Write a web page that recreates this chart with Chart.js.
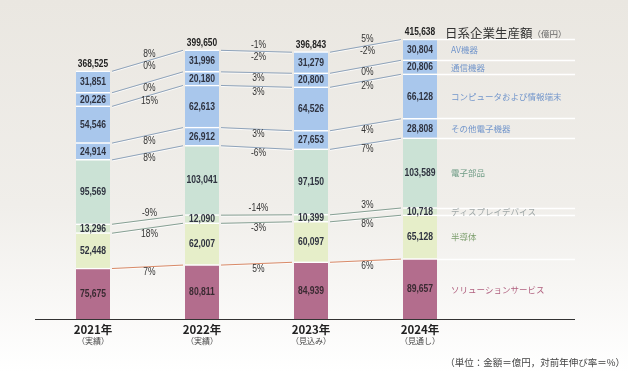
<!DOCTYPE html>
<html><head><meta charset="utf-8">
<script src="https://cdn.jsdelivr.net/npm/chart.js@4/dist/chart.umd.min.js"></script>
<style>html,body{margin:0;padding:0;background:#fff;}canvas{display:block;}</style>
</head><body>
<canvas id="c" width="628" height="372"></canvas>
<script>
const categories = ['2021年','2022年','2023年','2024年'];
const subLabels = ['（実績）','（実績）','（見込み）','（見通し）'];
const seriesNames = ['ソリューションサービス','半導体','ディスプレイデバイス','電子部品','その他電子機器','コンピュータおよび情報端末','通信機器','AV機器'];
const solution = [75675, 80811, 84939, 89657];
const semiconductor = [52448, 62007, 60097, 65128];
const display = [13296, 12090, 10399, 10718];
const components = [95569, 103041, 97150, 103589];
const otherEquip = [24914, 26912, 27653, 28808];
const computer = [54546, 62613, 64526, 66128];
const comm = [20226, 20180, 20800, 20806];
const av = [31851, 31996, 31279, 30804];
const totals = [368525, 399650, 396843, 415638];
const growthTotal = ['8%','-1%','5%'];
const growthSolution = ['7%','5%','6%'];
const growthSemi = ['18%','-3%','8%'];
const growthDisplay = ['-9%','-14%','3%'];
const growthParts = ['8%','-6%','7%'];
const growthOther = ['8%','3%','4%'];
const growthComputer = ['15%','3%','2%'];
const growthComm = ['0%','3%','0%'];
const growthAV = ['0%','-2%','-2%'];

const seriesValues = [solution, semiconductor, display, components, otherEquip, computer, comm, av];
const seriesGrowth = [growthSolution, growthSemi, growthDisplay, growthParts, growthOther, growthComputer, growthComm, growthAV];
const fills = ['#b36d8d','#e6eec9','#d9e9d1','#cbe2d5','#a9c7ec','#a9c7ec','#a9c7ec','#a9c7ec'];
const textColors = ['#b0607f','#7fa070','#a0a8a8','#6f9c86','#7396cb','#7396cb','#7396cb','#7396cb'];
const lineColors = ['#d98a68','#86a094','#86a094','#8ea3bb','#8ea3bb','#8ea3bb','#8ea3bb','#8ea3bb'];
const NUM = "'Liberation Sans',Arial,sans-serif";
const JP = "'Noto Sans CJK JP',sans-serif";

const fmt = v => v.toLocaleString('en-US');

function narrowText(c, txt, x, y, font, color, sx){
  c.save();
  c.font = font; c.fillStyle = color; c.textAlign = 'center'; c.textBaseline = 'middle';
  c.translate(x, y); c.scale(sx, 1);
  c.fillText(txt, 0, 0);
  c.restore();
}

const bgPlugin = {
  id:'bg',
  beforeDraw(chart){
    const c = chart.ctx;
    const g = c.createLinearGradient(0,0,0,372);
    g.addColorStop(0,'#eae7e1');
    g.addColorStop(0.55,'#f0eeea');
    g.addColorStop(1,'#ffffff');
    c.save(); c.fillStyle = g; c.fillRect(0,0,chart.width,chart.height); c.restore();
  }
};

const overlay = {
  id:'overlay',
  afterDatasetsDraw(chart){
    const c = chart.ctx, ys = chart.scales.y;
    const meta0 = chart.getDatasetMeta(0);
    const bars = meta0.data.map(el => ({x: el.x, w: el.width}));
    const cum = categories.map((_, i) => {
      const arr = [0]; let s = 0;
      seriesValues.forEach(v => { s += v[i]; arr.push(s); });
      return arr;
    });
    const base = ys.getPixelForValue(0);
    c.save();
    // axis line
    c.strokeStyle = '#333'; c.lineWidth = 1.2;
    c.beginPath(); c.moveTo(35, base + 0.5); c.lineTo(575, base + 0.5); c.stroke();
    // connectors
    for (let i = 0; i < bars.length - 1; i++) {
      const x1 = bars[i].x + bars[i].w/2 + 2, x2 = bars[i+1].x - bars[i+1].w/2 - 2;
      for (let b = 1; b <= seriesValues.length; b++) {
        const y1 = ys.getPixelForValue(cum[i][b]), y2 = ys.getPixelForValue(cum[i+1][b]);
        c.strokeStyle = 'rgba(255,255,255,0.8)'; c.lineWidth = 1;
        c.beginPath(); c.moveTo(x1, y1+1.5); c.lineTo(x2, y2+1.5); c.stroke();
        c.strokeStyle = lineColors[b-1]; c.lineWidth = 1;
        c.beginPath(); c.moveTo(x1, y1+0.5); c.lineTo(x2, y2+0.5); c.stroke();
      }
      // growth labels
      const mx = (x1 + x2)/2 + 2;
      const pf = '10px ' + NUM;
      seriesGrowth.forEach((g, s) => {
        const b = s + 1;
        const my = (ys.getPixelForValue(cum[i][b]) + ys.getPixelForValue(cum[i+1][b]))/2;
        const off = (s === 2) ? -6 : 6;
        narrowText(c, g[i], mx, my + off, pf, '#333', 0.85);
      });
      const ty = (ys.getPixelForValue(cum[i][8]) + ys.getPixelForValue(cum[i+1][8]))/2;
      narrowText(c, growthTotal[i], mx, ty - 6, pf, '#333', 0.85);
    }
    // right guide lines and labels
    const last = bars.length - 1;
    const rx = bars[last].x + bars[last].w/2;
    for (let b = 1; b <= seriesValues.length; b++) {
      const y = Math.round(ys.getPixelForValue(cum[last][b])) + 0.5;
      c.strokeStyle = '#ffffff'; c.lineWidth = 1.3;
      c.beginPath(); c.moveTo(rx, y); c.lineTo(575, y); c.stroke();
    }
    c.textAlign = 'left'; c.textBaseline = 'middle';
    seriesNames.forEach((n, s) => {
      const y = (ys.getPixelForValue(cum[last][s]) + ys.getPixelForValue(cum[last][s+1]))/2;
      c.font = '8.5px ' + JP; c.fillStyle = textColors[s];
      c.fillText(n, 451, y + 0.5);
    });
    // title
    c.fillStyle = '#333'; c.font = '12.5px ' + JP; c.textBaseline = 'middle';
    c.fillText('日系企業生産額', 445, 33);
    const tw = c.measureText('日系企業生産額').width;
    c.font = '8.5px ' + JP; c.fillStyle = '#666';
    c.fillText('（億円）', 445 + tw, 33.5);
    // value labels
    c.textAlign = 'center';
    bars.forEach((bar, i) => {
      seriesValues.forEach((v, s) => {
        const y = (ys.getPixelForValue(cum[i][s]) + ys.getPixelForValue(cum[i][s+1]))/2;
        narrowText(c, fmt(v[i]), bar.x, y + 0.5, 'bold 11px ' + NUM, s === 0 ? '#3a2a32' : '#2f3340', 0.78);
      });
      narrowText(c, fmt(totals[i]), bar.x, ys.getPixelForValue(totals[i]) - 7, 'bold 10.5px ' + NUM, '#222', 0.8);
      // x labels
      c.textAlign = 'center'; c.textBaseline = 'middle';
      c.font = 'bold 11.5px ' + JP; c.fillStyle = '#222';
      c.fillText(categories[i], bar.x, 330);
      c.font = '8px ' + JP; c.fillStyle = '#444';
      c.fillText(subLabels[i], bar.x, 341);
    });
    // note
    c.textAlign = 'right'; c.textBaseline = 'middle'; c.font = '9.5px ' + JP; c.fillStyle = '#444';
    c.fillText('（単位：金額＝億円，対前年伸び率＝%）', 625, 362);
    c.restore();
  }
};

new Chart(document.getElementById('c'), {
  type:'bar',
  data:{
    labels: categories,
    datasets: seriesNames.map((n, s) => ({
      label: n,
      data: seriesValues[s],
      backgroundColor: fills[s],
      borderColor: '#ffffff',
      borderWidth: {top: 1.5, bottom: 0, left: 0, right: 0},
      borderSkipped: 'start',
      barThickness: 34
    }))
  },
  options:{
    responsive:false, animation:false, devicePixelRatio:1,
    layout:{padding:{left:38.5, right:153.5, top:15.9, bottom:53}},
    plugins:{legend:{display:false}, tooltip:{enabled:false}},
    scales:{
      x:{stacked:true, display:false},
      y:{stacked:true, display:false, min:0, max:450000}
    }
  },
  plugins:[bgPlugin, overlay]
});
</script>
</body></html>
